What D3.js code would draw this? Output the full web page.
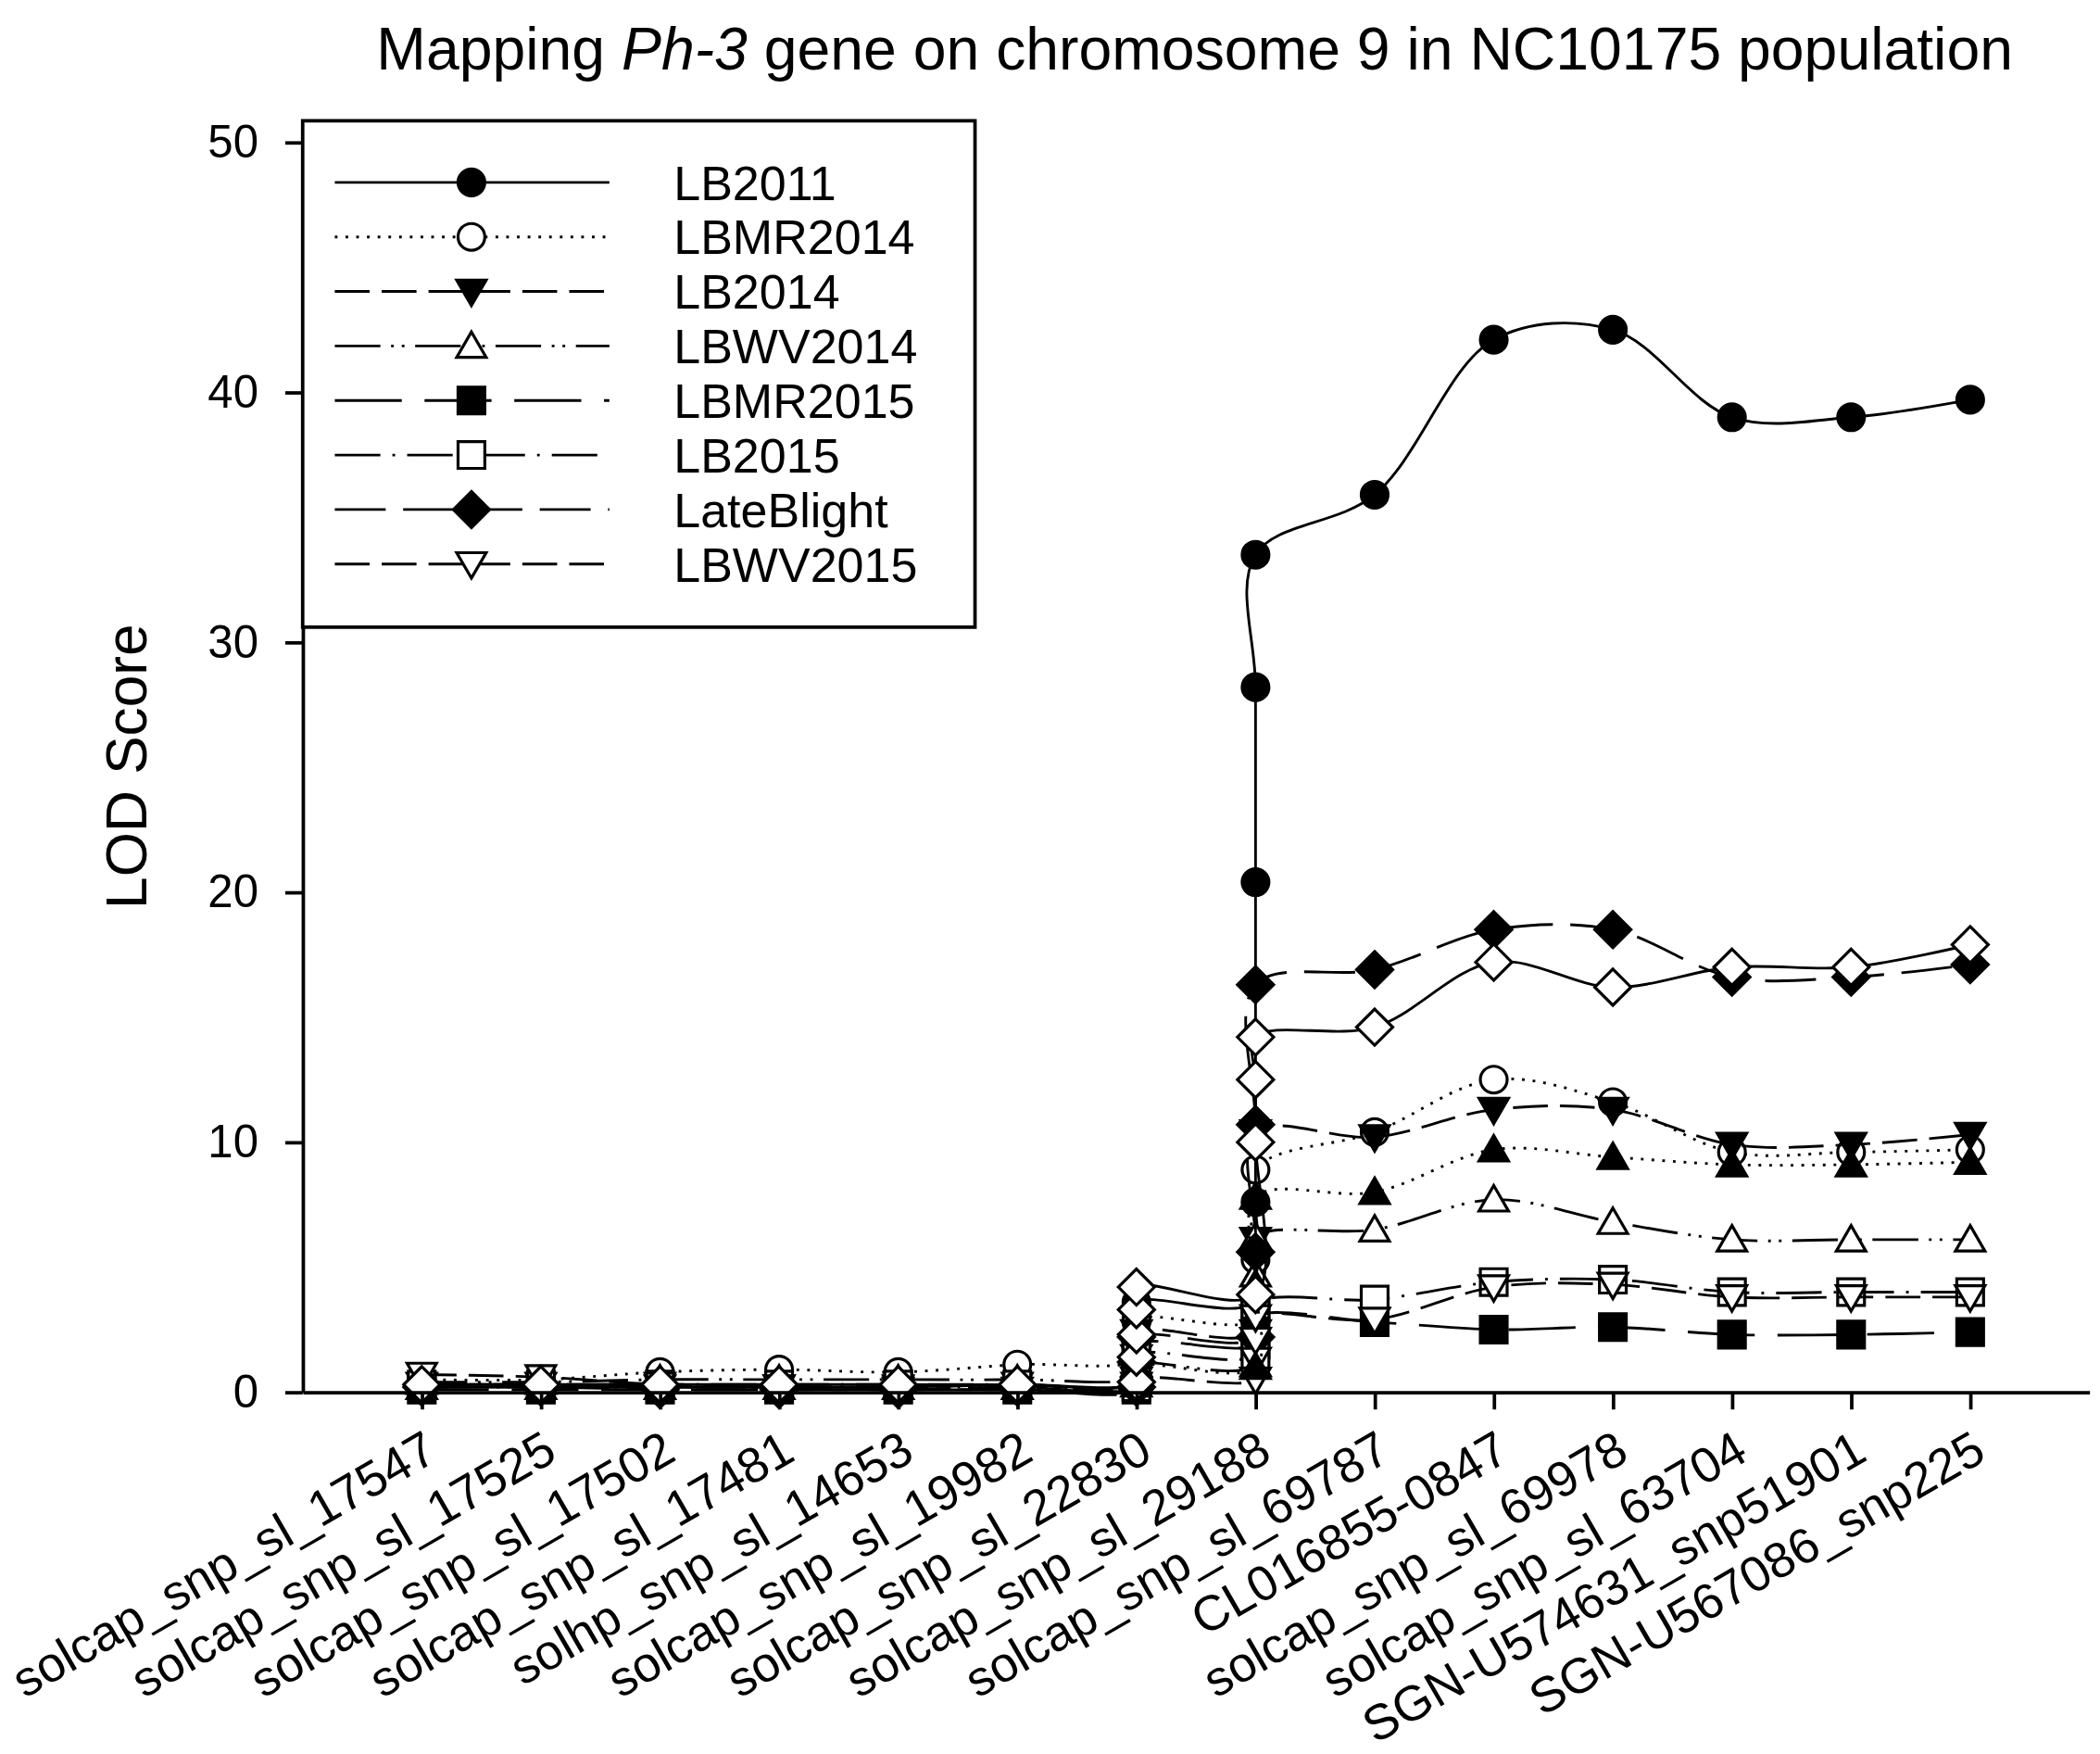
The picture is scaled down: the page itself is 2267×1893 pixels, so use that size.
<!DOCTYPE html>
<html>
<head>
<meta charset="utf-8">
<script src="https://cdn.jsdelivr.net/npm/d3@7"></script>
<style>
  html, body { margin: 0; padding: 0; background: #fff; }
  text { font-family: "Liberation Sans", Arial, sans-serif; fill: #000; }
</style>
</head>
<body>
<div id="chart"></div>
<script>
// --- data ---
const markers = [
  "solcap_snp_sl_17547", "solcap_snp_sl_17525", "solcap_snp_sl_17502",
  "solcap_snp_sl_17481", "solhp_snp_sl_14653", "solcap_snp_sl_19982",
  "solcap_snp_sl_22830", "solcap_snp_sl_29188", "solcap_snp_sl_69787",
  "CL016855-0847", "solcap_snp_sl_69978", "solcap_snp_sl_63704",
  "SGN-U574631_snp51901", "SGN-U567086_snp225"
];
const yTicks = [0, 10, 20, 30, 40, 50];

// [marker position (1-based), LOD]
const lb2011 = [[1,0.2],[2,0.2],[3,0.2],[4,0.2],[5,0.2],[6,0.3],[7,0.4],[7,1.2],[7,2.0],[7,2.8],[7,3.6],[8,3.6],[8,7.6],[8,20.4],[8,28.2],[8,33.5],[9,35.9],[10,42.1],[11,42.5],[12,39.0],[13,39.0],[14,39.7]];
const lbmr2014 = [[1,0.5],[2,0.5],[3,0.8],[4,0.9],[5,0.8],[6,1.1],[7,1.3],[7,2.1],[7,2.9],[8,2.9],[8,5.3],[8,8.9],[9,10.4],[10,12.5],[11,11.6],[12,9.6],[13,9.6],[14,9.7]];
const lb2014 = [[1,0.3],[2,0.3],[3,0.2],[4,0.2],[5,0.2],[6,0.3],[7,0.3],[7,1.4],[7,2.4],[8,2.4],[8,6.1],[8,10.4],[9,10.2],[10,11.3],[11,11.3],[12,9.9],[13,9.9],[14,10.3]];
const lbwv2014 = [[1,0.4],[2,0.4],[3,0.5],[4,0.5],[5,0.5],[6,0.5],[7,0.6],[7,1.1],[8,1.1],[8,4.7],[8,6.2],[9,6.5],[10,7.7],[11,6.8],[12,6.1],[13,6.1],[14,6.1]];
const lbmr2015 = [[1,0.1],[2,0.1],[3,0.1],[4,0.1],[5,0.1],[6,0.1],[7,0.1],[7,1.0],[7,1.9],[8,1.9],[8,3.0],[9,2.8],[10,2.5],[11,2.6],[12,2.3],[13,2.3],[14,2.4]];
const lb2015 = [[1,0.3],[2,0.3],[3,0.3],[4,0.3],[5,0.3],[6,0.3],[7,0.2],[7,0.9],[7,1.5],[8,1.5],[8,3.5],[9,3.7],[10,4.4],[11,4.5],[12,4.0],[13,4.0],[14,4.0]];
const lateBlight = [[1,0.2],[2,0.2],[3,0.1],[4,0.1],[5,0.1],[6,0.2],[7,0.2],[7,1.2],[7,2.2],[8,2.2],[8,5.6],[8,10.7],[8,16.3],[9,16.9],[10,18.5],[11,18.5],[12,16.6],[13,16.6],[14,17.1]];
const lbwv2015 = [[1,0.7],[2,0.6],[3,0.3],[4,0.2],[5,0.1],[6,0.1],[7,0.1],[7,0.5],[8,0.5],[8,1.3],[8,2.1],[8,3.0],[9,2.9],[10,4.2],[11,4.3],[12,3.8],[13,3.8],[14,3.8]];
// two more plots drawn but left out of the legend
const extraTri = [[1,0.2],[2,0.2],[3,0.2],[4,0.2],[5,0.2],[6,0.2],[7,0.3],[7,1.0],[8,1.0],[8,4.3],[8,7.8],[9,8.0],[10,9.7],[11,9.4],[12,9.1],[13,9.1],[14,9.2]];
const extraDiamond = [[1,0.3],[2,0.3],[3,0.3],[4,0.3],[5,0.3],[6,0.3],[7,0.4],[7,1.4],[7,2.3],[7,3.3],[7,4.2],[8,3.9],[8,10.0],[8,12.5],[8,14.2],[9,14.6],[10,17.2],[11,16.2],[12,17.0],[13,17.0],[14,17.9]];

const seriesNames = ["LB2011", "LBMR2014", "LB2014", "LBWV2014", "LBMR2015", "LB2015", "LateBlight", "LBWV2015", "", ""];
const seriesValues = [lb2011, lbmr2014, lb2014, lbwv2014, lbmr2015, lb2015, lateBlight, lbwv2015, extraTri, extraDiamond];

// styles for each plot (symbol, filled, dash pattern)
const symbols = ["circle", "circle", "triDown", "triUp", "square", "square", "diamond", "triDown", "triUp", "diamond"];
const filled = [true, false, true, false, true, false, true, false, true, false];
const dashes = ["none", "2,6", "26,9", "34,8,2,6,2,8", "50,17", "34,9,2,9", "38,13", "26,9", "2,6", "none"];

// --- layout (drawn in 1568x1309 units, scaled up to the window) ---
const W = 1568, H = 1309;
const svg = d3.select("#chart")
  .append("svg")
  .attr("width", 2267)
  .attr("height", 1893)
  .attr("viewBox", `0 0 ${W} ${H}`);

const x = d3.scaleLinear().domain([0, 15]).range([226, 1560]);
const y = d3.scaleLinear().domain([0, 50.86]).range([1039, 90]);

// marker shapes
function symbolPath(type, r) {
  if (type === "circle") return d3.symbol(d3.symbolCircle, Math.PI * r * r)();
  if (type === "square") return `M${-r},${-r}H${r}V${r}H${-r}Z`;
  if (type === "diamond") { const a = r * 1.35; return `M0,${-a}L${a},0L0,${a}L${-a},0Z`; }
  if (type === "triUp") return `M0,${-r * 1.05}L${r * 1.1},${r * 0.85}L${-r * 1.1},${r * 0.85}Z`;
  if (type === "triDown") return `M0,${r * 1.05}L${r * 1.1},${-r * 0.85}L${-r * 1.1},${-r * 0.85}Z`;
}

// title
const title = svg.append("text")
  .attr("x", 892)
  .attr("y", 52)
  .attr("text-anchor", "middle")
  .style("font-size", "44.5px");
title.append("tspan").text("Mapping ");
title.append("tspan").style("font-style", "italic").text("Ph-3");
title.append("tspan").text(" gene on chromosome 9 in NC10175 population");

// plots
const line = d3.line()
  .x(d => x(d[0]))
  .y(d => y(d[1]))
  .curve(d3.curveCatmullRom.alpha(0.5));

seriesValues.forEach((vals, i) => {
  const g = svg.append("g");
  g.append("path")
    .datum(vals)
    .attr("d", line)
    .attr("fill", "none")
    .attr("stroke", "#000")
    .attr("stroke-width", 2)
    .attr("stroke-dasharray", dashes[i]);
  g.selectAll(".pt")
    .data(vals)
    .enter()
    .append("path")
    .attr("class", "pt")
    .attr("transform", d => `translate(${x(d[0])},${y(d[1])})`)
    .attr("d", symbolPath(symbols[i], 10))
    .attr("fill", filled[i] ? "#000" : "#fff")
    .attr("stroke", "#000")
    .attr("stroke-width", 2.2);
});

// axes
const xAxis = svg.append("g")
  .attr("transform", `translate(0,${y(0)})`)
  .call(d3.axisBottom(x)
    .tickValues(d3.range(1, markers.length + 1))
    .tickFormat(d => markers[d - 1])
    .tickSize(13)
    .tickSizeOuter(0));
xAxis.select(".domain").attr("stroke-width", 2.6);
xAxis.selectAll(".tick line").attr("stroke-width", 2.6);
xAxis.selectAll(".tick text")
  .attr("y", 0).attr("dy", 0)
  .attr("text-anchor", "end")
  .attr("transform", "translate(13,50) rotate(-30)")
  .style("font-size", "37px")
  .style("font-family", "'Liberation Sans', Arial, sans-serif");

const yAxis = svg.append("g")
  .attr("transform", `translate(${x(0)},0)`)
  .call(d3.axisLeft(y)
    .tickValues(yTicks)
    .tickSize(13)
    .tickSizeOuter(0)
    .tickPadding(20));
yAxis.select(".domain").attr("stroke-width", 2.6);
yAxis.selectAll(".tick line").attr("stroke-width", 2.6);
yAxis.selectAll(".tick text")
  .style("font-size", "34px")
  .style("font-family", "'Liberation Sans', Arial, sans-serif");

svg.append("text")
  .attr("transform", `translate(109,572) rotate(-90)`)
  .attr("text-anchor", "middle")
  .style("font-size", "43px")
  .text("LOD Score");

// legend
const legend = svg.append("g");
legend.append("rect")
  .attr("x", 226).attr("y", 90)
  .attr("width", 502).attr("height", 378)
  .attr("fill", "#fff")
  .attr("stroke", "#000")
  .attr("stroke-width", 2.6);

seriesNames.forEach((name, i) => {
  if (!name) return;
  const cy = 136 + i * 40.7;
  legend.append("line")
    .attr("x1", 250).attr("x2", 455)
    .attr("y1", cy).attr("y2", cy)
    .attr("stroke", "#000")
    .attr("stroke-width", 2)
    .attr("stroke-dasharray", dashes[i]);
  legend.append("path")
    .attr("transform", `translate(352,${cy})`)
    .attr("d", symbolPath(symbols[i], 10))
    .attr("fill", filled[i] ? "#000" : "#fff")
    .attr("stroke", "#000")
    .attr("stroke-width", 2.2);
  legend.append("text")
    .attr("x", 503)
    .attr("y", cy + 13)
    .style("font-size", "36px")
    .text(name);
});
</script>
</body>
</html>
